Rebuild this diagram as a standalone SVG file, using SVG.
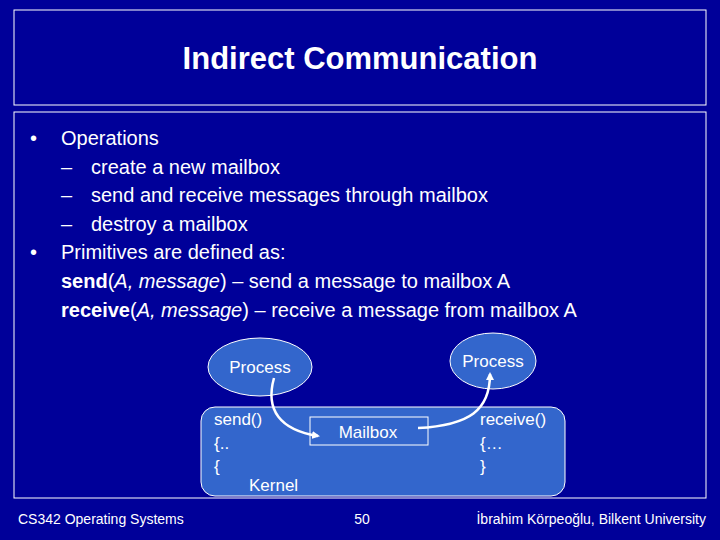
<svg xmlns="http://www.w3.org/2000/svg" width="720" height="540" viewBox="0 0 720 540">
<defs>
<marker id="ah" markerWidth="8" markerHeight="8" refX="6" refY="4" orient="auto" markerUnits="userSpaceOnUse" viewBox="0 0 8 8"><path d="M0,0 L8,4 L0,8 z" fill="#fff"/></marker>
<style>
text{font-family:"Liberation Sans",Arial,sans-serif;fill:#fff}
.b{font-size:20px}
.n{font-size:17px}
.f{font-size:14px}
.frame{fill:none;stroke:#fff;stroke-width:1}
.node{fill:#3366cc;stroke:#fff;stroke-width:1}
.con{fill:none;stroke:#fff;stroke-width:2.5}
</style>
</defs>
<rect width="720" height="540" fill="#000099"/>
<rect class="frame" x="14" y="10" width="692" height="95"/>
<rect class="frame" x="14" y="112" width="692" height="386"/>
<text x="360" y="69" font-size="31" font-weight="bold" text-anchor="middle">Indirect Communication</text>
<text class="b" x="30" y="145">•</text><text class="b" x="61" y="145">Operations</text>
<text class="b" x="61" y="174">–</text><text class="b" x="91" y="174">create a new mailbox</text>
<text class="b" x="61" y="202">–</text><text class="b" x="91" y="202">send and receive messages through mailbox</text>
<text class="b" x="61" y="231">–</text><text class="b" x="91" y="231">destroy a mailbox</text>
<text class="b" x="30" y="259">•</text><text class="b" x="61" y="259">Primitives are defined as:</text>
<text class="b" x="61" y="288"><tspan font-weight="bold">send</tspan>(<tspan font-style="italic">A, message</tspan>) – send a message to mailbox A</text>
<text class="b" x="61" y="317"><tspan font-weight="bold">receive</tspan>(<tspan font-style="italic">A, message</tspan>) – receive a message from mailbox A</text>
<g id="kernel"><rect class="node" x="201" y="407" width="364" height="89" rx="14"/>
<text class="n" x="214" y="425">send()</text><text class="n" x="214" y="449">{..</text><text class="n" x="214" y="472">{</text>
<text class="n" x="249" y="491">Kernel</text>
<text class="n" x="480" y="425">receive()</text><text class="n" x="480" y="449">{…</text><text class="n" x="480" y="472">}</text></g>
<g id="p1"><ellipse class="node" cx="260" cy="367" rx="52" ry="29"/><text class="n" x="260" y="373" text-anchor="middle">Process</text></g>
<g id="p2"><ellipse class="node" cx="493" cy="361" rx="43" ry="28"/><text class="n" x="493" y="367" text-anchor="middle">Process</text></g>
<g id="mailbox"><rect class="node" x="310" y="417" width="118" height="28"/><text class="n" x="368" y="438" text-anchor="middle">Mailbox</text></g>
<g id="connectors">
<path class="con" d="M274,378 C265,410 280,430 318,436" marker-end="url(#ah)"/>
<path class="con" d="M418,428 C470,425 490,410 490,374" marker-end="url(#ah)"/>
</g>
<text class="f" x="18" y="524">CS342 Operating Systems</text>
<text class="f" x="362" y="524" text-anchor="middle">50</text>
<text class="f" x="706" y="524" text-anchor="end">İbrahim Körpeoğlu, Bilkent University</text>
</svg>
